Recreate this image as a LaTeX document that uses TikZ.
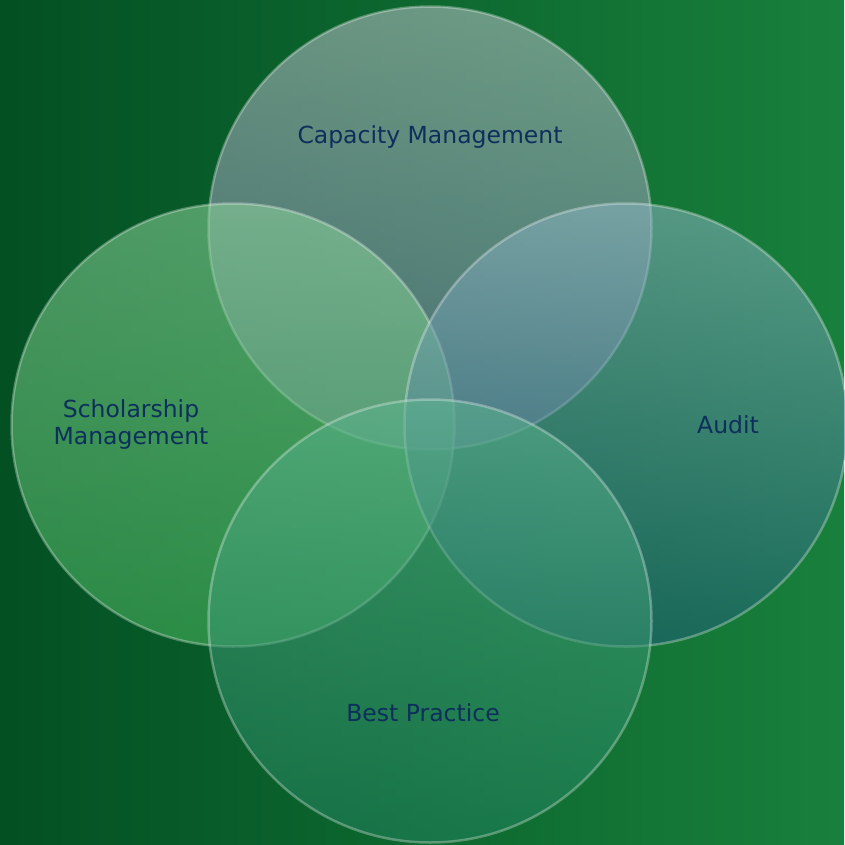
\documentclass[tikz,border=0pt]{standalone}
\usepackage{fontspec}
\setmainfont{DejaVu Sans}
\usepackage{tikz}

\definecolor{bgdark}{RGB}{3,80,35}
\definecolor{bglight}{RGB}{24,128,60}
\definecolor{captop}{RGB}{185,193,200}
\definecolor{capbot}{RGB}{119,122,170}
\definecolor{schtop}{RGB}{140,211,155}
\definecolor{schbot}{RGB}{73,182,95}
\definecolor{auditop}{RGB}{140,180,193}
\definecolor{audibot}{RGB}{29,93,116}
\definecolor{besttop}{RGB}{92,180,142}
\definecolor{bestbot}{RGB}{32,128,92}
\definecolor{labeltext}{RGB}{13,47,92}

\begin{document}
\begin{tikzpicture}[x=1pt,y=-1pt,
        bubble/.style={circle,minimum size=443pt,inner sep=0pt,fill opacity=0.55,draw=white,draw opacity=0.3,line width=2.5pt},
        labeltxt/.style={text=labeltext,font=\fontsize{23.5}{27}\selectfont,align=center}]
                \shade[left color=bgdark,right color=bglight] (0,0) rectangle (844,845);
                \useasboundingbox (0,0) rectangle (844,845);

                \node[bubble,top color=captop,bottom color=capbot] (CAP) at (430,228){};
                \node[bubble,top color=schtop,bottom color=schbot] (SCH) at (233,425){};
                \node[bubble,top color=auditop,bottom color=audibot] (AUD) at (626,425){};
                \node[bubble,top color=besttop,bottom color=bestbot] (BEST) at (430,621){};

                \node[labeltxt] (CAPtxt) at (430,137){Capacity Management};
                \node[labeltxt] (SCHtxt) at (131,425){Scholarship\\Management};
                \node[labeltxt] (AUDtxt) at (728,425){Audit};
                \node[labeltxt] (BESTtxt) at (423,713){Best Practice};
        \end{tikzpicture}
\end{document}
